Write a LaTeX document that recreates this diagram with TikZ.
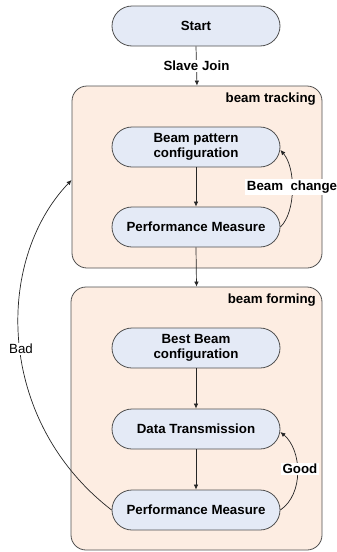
\documentclass[tikz,border=0pt]{standalone}
\usepackage{fontspec}
\setmainfont{Liberation Sans}
\usetikzlibrary{arrows.meta}
\definecolor{nodeblue}{RGB}{228,234,246}
\definecolor{peach}{RGB}{253,237,226}
\definecolor{edge}{RGB}{80,80,80}
\tikzset{
  procbox/.style={draw=edge, line width=0.8pt, fill=nodeblue, rounded corners=20pt,
    minimum width=168pt, minimum height=40pt, align=center, inner sep=2pt,
    font=\fontsize{13.3}{15}\selectfont\bfseries},
  stagebox/.style={draw=edge, line width=0.8pt, fill=peach, rounded corners=15pt},
  stagelabel/.style={anchor=north east, inner sep=0pt, font=\fontsize{13.3}{15}\selectfont\bfseries},
  edgelabel/.style={fill=white, inner sep=1.5pt, font=\fontsize{13.3}{15}\selectfont\bfseries},
  badlabel/.style={fill=white, inner sep=1.5pt, font=\fontsize{13.3}{15}\selectfont},
  flow/.style={draw=black!85, line width=0.7pt, -{Latex[length=5pt,width=4.5pt]}},
}
\begin{document}
\begin{tikzpicture}[x=1pt,y=-1pt]
\useasboundingbox (0,0) rectangle (337,552);
% containers
\node[stagebox, minimum width=250pt, minimum height=182pt] (track) at (197,177) {};
\node[stagebox, minimum width=251pt, minimum height=263pt] (form) at (196.5,418.5) {};
\node[stagelabel] (tracklbl) at (316,93) {beam tracking};
\node[stagelabel] (formlbl) at (316,294) {beam forming};
% process nodes
\node[procbox] (start) at (196,26) {Start};
\node[procbox] (bpc) at (196,147) {Beam pattern\\configuration};
\node[procbox] (pm1) at (196,227) {Performance Measure};
\node[procbox] (bbc) at (196,348) {Best Beam\\configuration};
\node[procbox] (dt) at (196,429) {Data Transmission};
\node[procbox] (pm2) at (196,510) {Performance Measure};
% connectors
\draw[flow] (start.south) -- node[edgelabel] (sj) {Slave Join} (track.north);
\draw[flow] (bpc.south) -- (pm1.north);
\draw[flow] (pm1.south) -- (form.north);
\draw[flow] (bbc.south) -- (dt.north);
\draw[flow] (dt.south) -- (pm2.north);
\draw[flow] (pm1.east) .. controls (296,212) and (296,168) .. ([yshift=-3pt]bpc.east);
\node[edgelabel] (bclbl) at (292,187) {Beam\ \ change};
\draw[flow] (pm2.east) .. controls (304,494) and (302,450) .. ([yshift=-3pt]dt.east);
\node[edgelabel] (goodlbl) at (300,469) {Good};
\draw[flow] (pm2.west) .. controls (-5,420) and (-5,260) .. (track.west |- 0,180);
\node[badlabel] (badlbl) at (21,349) {Bad};
\end{tikzpicture}
\end{document}
